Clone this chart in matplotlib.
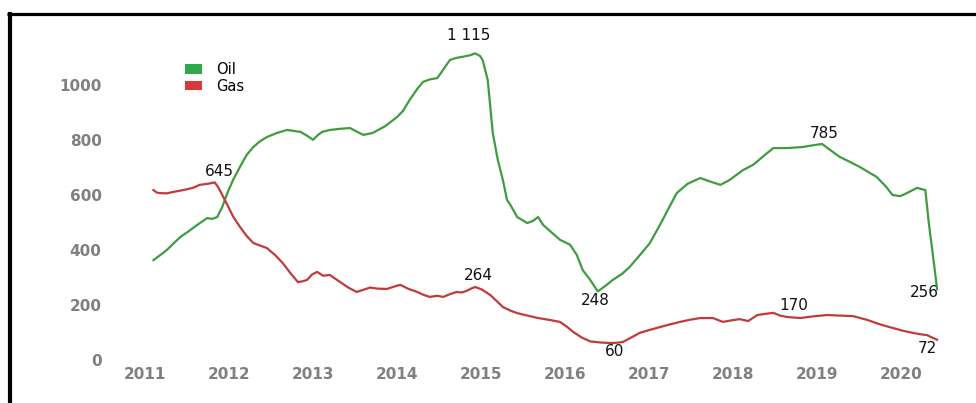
import matplotlib
matplotlib.use("Agg")
import matplotlib.pyplot as plt
from matplotlib.patches import Patch
from matplotlib.lines import Line2D

# ---------------- data ----------------
oil_x = [2011.10, 2011.18, 2011.26, 2011.33, 2011.42, 2011.51, 2011.62, 2011.74, 2011.80, 2011.86,
         2011.92, 2011.95, 2011.98, 2012.05, 2012.13, 2012.21, 2012.29, 2012.37, 2012.45, 2012.57,
         2012.69, 2012.85, 2012.93, 2013.00, 2013.06, 2013.11, 2013.20, 2013.32, 2013.44, 2013.52,
         2013.60, 2013.71, 2013.86, 2014.00, 2014.07, 2014.15, 2014.24, 2014.31, 2014.39, 2014.48,
         2014.56, 2014.63, 2014.70, 2014.79, 2014.87, 2014.93, 2014.99, 2015.02, 2015.08, 2015.14,
         2015.20, 2015.26, 2015.31, 2015.35, 2015.43, 2015.55, 2015.62, 2015.68, 2015.74, 2015.85,
         2015.94, 2016.06, 2016.14, 2016.21, 2016.30, 2016.39, 2016.48, 2016.57, 2016.68, 2016.77,
         2016.89, 2017.01, 2017.13, 2017.25, 2017.33, 2017.46, 2017.61, 2017.73, 2017.85, 2017.96,
         2018.12, 2018.24, 2018.36, 2018.48, 2018.64, 2018.83, 2018.95, 2019.06, 2019.17, 2019.27,
         2019.39, 2019.51, 2019.71, 2019.82, 2019.90, 2019.99, 2020.07, 2020.19, 2020.29, 2020.33,
         2020.38, 2020.43]
oil_y = [362, 380, 399, 420, 446, 465, 490, 515, 512, 519,
         556, 581, 606, 655, 701, 745, 774, 795, 810, 825,
         836, 829, 815, 800, 818, 829, 836, 840, 843, 830,
         818, 825, 850, 883, 905, 945, 985, 1011, 1020, 1025,
         1060, 1091, 1098, 1103, 1108, 1115, 1105, 1090, 1018, 825,
         727, 654, 581, 563, 519, 497, 505, 519, 490, 460,
         436, 418, 381, 326, 290, 248, 268, 290, 312, 337,
         380, 424, 490, 560, 606, 640, 661, 648, 636, 654,
         690, 709, 740, 770, 770, 774, 780, 785, 760, 738,
         720, 701, 665, 630, 599, 595, 606, 625, 617, 500,
         380, 256]

gas_x = [2011.10, 2011.14, 2011.18, 2011.26, 2011.33, 2011.42, 2011.50, 2011.57, 2011.65, 2011.75,
         2011.83, 2011.87, 2011.92, 2011.98, 2012.05, 2012.13, 2012.21, 2012.29, 2012.37, 2012.45,
         2012.55, 2012.64, 2012.73, 2012.82, 2012.88, 2012.93, 2012.99, 2013.05, 2013.12, 2013.20,
         2013.26, 2013.32, 2013.42, 2013.52, 2013.61, 2013.68, 2013.77, 2013.88, 2013.96, 2014.04,
         2014.13, 2014.24, 2014.32, 2014.39, 2014.48, 2014.55, 2014.63, 2014.71, 2014.77, 2014.83,
         2014.88, 2014.93, 2015.01, 2015.11, 2015.19, 2015.26, 2015.35, 2015.43, 2015.55, 2015.68,
         2015.80, 2015.94, 2016.02, 2016.10, 2016.20, 2016.30, 2016.42, 2016.54, 2016.62, 2016.69,
         2016.80, 2016.89, 2017.01, 2017.13, 2017.25, 2017.37, 2017.49, 2017.61, 2017.76, 2017.88,
         2017.99, 2018.08, 2018.18, 2018.29, 2018.38, 2018.48, 2018.56, 2018.64, 2018.80, 2018.95,
         2019.12, 2019.27, 2019.43, 2019.60, 2019.75, 2019.90, 2020.02, 2020.14, 2020.23, 2020.31,
         2020.37, 2020.43]
gas_y = [617, 608, 606, 605, 610, 615, 620, 625, 636, 640,
         645, 628, 599, 563, 520, 483, 450, 424, 415, 406,
         380, 351, 315, 282, 285, 290, 310, 319, 305, 308,
         295, 283, 262, 246, 255, 262, 258, 257, 265, 272,
         258, 246, 235, 228, 232, 228, 238, 246, 244, 250,
         258, 264, 255, 235, 212, 191, 178, 169, 160, 151,
         145, 137, 120, 100, 80, 66, 62, 60, 61, 64,
         82, 97, 108, 118, 128, 137, 145, 151, 151, 137,
         143, 147, 140, 162, 166, 170, 160, 155, 151, 157,
         162, 160, 158, 144, 128, 115, 105, 97, 92, 89,
         80, 72]

year_ticks = [2011, 2012, 2013, 2014, 2015, 2016, 2017, 2018, 2019, 2020]
value_ticks = [0, 200, 400, 600, 800, 1000]

# labelled values: (value, which occurrence, offset in points)
oil_labels = [(1115, 'first', (-5, 13)), (248, 'first', (-2, -6.2)),
              (785, 'first', (1.4, 7.2)), (256, 'last', (-9.4, -2.2))]
gas_labels = [(645, 'first', (3.6, 7.5)), (264, 'first', (2, 8.6)),
              (60, 'first', (3, -5.8)), (170, 'first', (15, 5.6)),
              (72, 'last', (-7.2, -6.5))]

OIL_C = '#3f9c3f'
GAS_C = '#c23b3b'

fig = plt.figure(figsize=(9.76, 4.03), dpi=100)
fig.patch.set_facecolor('white')
ax = fig.add_axes([110/976, 1 - 365/403, 855/976, 335/403])

ax.plot(oil_x, oil_y, color=OIL_C, lw=1.6)
ax.plot(gas_x, gas_y, color=GAS_C, lw=1.6)

ax.set_xlim(2010.583, 2020.762)
ax.set_ylim(-20, 1200)
ax.set_xticks(year_ticks)
ax.set_xticklabels([str(t) for t in year_ticks])
ax.set_yticks(value_ticks)
ax.set_yticklabels([str(t) for t in value_ticks])
ax.tick_params(length=0, labelsize=11, labelcolor='#808080')
ax.tick_params(axis='y', pad=6)
ax.tick_params(axis='x', pad=1.5)
for lab in ax.get_xticklabels() + ax.get_yticklabels():
    lab.set_fontweight('bold')
for s in ax.spines.values():
    s.set_visible(False)


def fmt(v):
    return f"{v:,}".replace(",", " ")


def annotate(xs, ys, labels):
    for val, which, off in labels:
        idxs = [i for i, v in enumerate(ys) if v == val]
        i = idxs[0] if which == 'first' else idxs[-1]
        ax.annotate(fmt(val), xy=(xs[i], ys[i]), xytext=off, textcoords='offset points',
                    ha='center', va='center', fontsize=11, color='#111111')


annotate(oil_x, oil_y, oil_labels)
annotate(gas_x, gas_y, gas_labels)

handles = [Patch(facecolor='#2ea84a', edgecolor='none', label='Oil'),
           Patch(facecolor='#d83a3a', edgecolor='none', label='Gas')]
fig.legend(handles=handles, loc='upper left', bbox_to_anchor=(185/976, 1 - 62/403),
           frameon=False, fontsize=10.5, handlelength=1.15, handleheight=0.62,
           handletextpad=1.0, labelspacing=0.12, borderpad=0, borderaxespad=0)

# outer frame lines (top and left)
fig.add_artist(Line2D([7/976, 1], [1 - 13.5/403, 1 - 13.5/403], transform=fig.transFigure,
                      color='black', lw=2.3, solid_capstyle='butt'))
fig.add_artist(Line2D([9.5/976, 9.5/976], [0, 1 - 12/403], transform=fig.transFigure,
                      color='black', lw=3.0, solid_capstyle='butt'))

fig.savefig('out.png', dpi=100, facecolor='white')
